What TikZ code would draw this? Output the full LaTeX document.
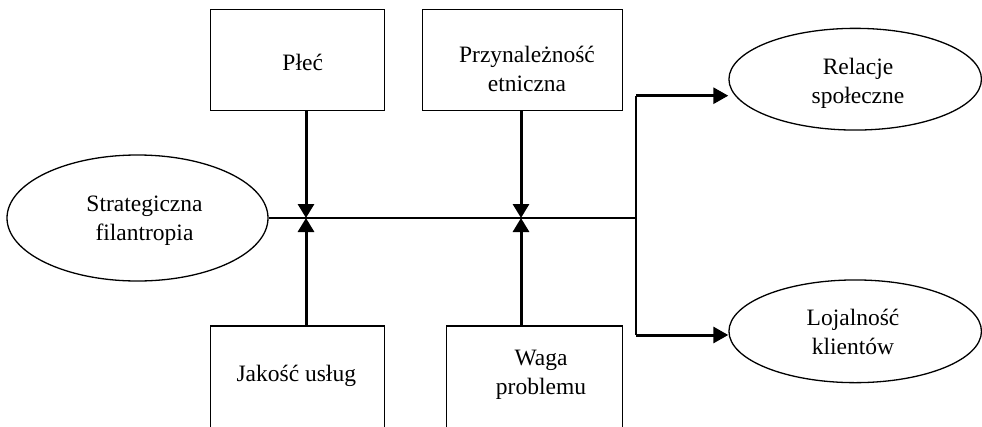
\documentclass[tikz,border=0pt]{standalone}
\usepackage{fontspec}
\setmainfont{Liberation Serif}
\usetikzlibrary{shapes.geometric,arrows.meta}
\begin{document}
\begin{tikzpicture}[x=1pt,y=-1pt,
  box/.style={draw, line width=1.3pt, rectangle, inner sep=0pt},
  oval/.style={draw, line width=1.3pt, ellipse, inner sep=0pt},
  txt/.style={inner sep=0pt, align=center, font=\fontsize{23.5}{28.7}\selectfont},
  wire/.style={line width=1.3pt},
  thickarrow/.style={line width=3pt, -{Triangle[length=14pt,width=16pt]}},
  sidearrow/.style={line width=3pt, -{Triangle[length=15pt,width=16pt]}},
]
\useasboundingbox (0,0) rectangle (982,426);
\clip (0,0) rectangle (982,426);

\node[box, minimum width=173.6pt, minimum height=101.4pt] (plec) at (297.5,60) {};
\node[txt, anchor=base] (plecT) at (302.7,70) {Płeć};
\node[box, minimum width=199.6pt, minimum height=101.4pt] (etn) at (522.5,60) {};
\node[txt, anchor=base] (etnT) at (527,91) {Przynależność\\etniczna};
\node[box, minimum width=173.6pt, minimum height=110pt] (jak) at (297.5,381) {};
\node[txt, anchor=base] (jakT) at (296.3,381) {Jakość usług};
\node[box, minimum width=175.6pt, minimum height=110pt] (waga) at (534.5,381) {};
\node[txt, anchor=base] (wagaT) at (541,394.3) {Waga\\problemu};
\node[oval, minimum width=261pt, minimum height=126pt] (strat) at (137.5,218) {};
\node[txt, anchor=base] (stratT) at (144.5,240) {Strategiczna\\filantropia};
\node[oval, minimum width=252.5pt, minimum height=101.7pt] (rel) at (855.2,79.2) {};
\node[txt, anchor=base] (relT) at (858,103.3) {Relacje\\społeczne};
\node[oval, minimum width=252.5pt, minimum height=102.7pt] (loj) at (855.2,331.3) {};
\node[txt, anchor=base] (lojT) at (853,354.3) {Lojalność\\klientów};

\coordinate (m1) at (306,218);
\coordinate (m2) at (521,218);
\coordinate (jn) at (636,218);
\coordinate (jr) at (636,95.7);
\coordinate (jl) at (636,335);

\draw[wire] (strat.east) -- (jn);
\draw[wire] (jr) -- (jl);
\draw[thickarrow] (plec.south -| m1) -- (m1);
\draw[thickarrow] (etn.south -| m2) -- (m2);
\draw[thickarrow] (jak.north -| m1) -- (m1);
\draw[thickarrow] (waga.north -| m2) -- (m2);
\draw[sidearrow] (jr) -- (jr -| rel.west);
\draw[sidearrow] (jl) -- (jl -| loj.west);
\end{tikzpicture}
\end{document}
